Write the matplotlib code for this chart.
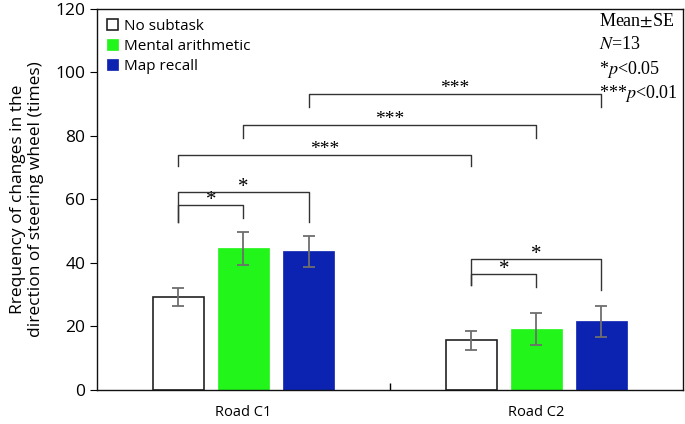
import matplotlib
matplotlib.use('Agg')
from matplotlib import pyplot as plt
import numpy as np

# data
roads = ['Road C1', 'Road C2']
conditions = ['No subtask', 'Mental arithmetic', 'Map recall']
means_c1 = [29.4, 44.6, 43.7]
means_c2 = [15.6, 19.3, 21.6]
se_c1 = [2.8, 5.2, 4.9]
se_c2 = [2.9, 5.1, 4.9]

# brackets: (road, bar a, bar b, y of bar, left leg bottom, right leg bottom, label)
local_sig = [
    (0, 0, 1, 58.3, 52.9, 54.2, '*'),
    (0, 0, 2, 62.4, 52.9, 53.0, '*'),
    (1, 0, 1, 36.6, 33.0, 32.3, '*'),
    (1, 0, 2, 41.2, 33.0, 31.5, '*'),
]
# cross-road brackets: (bar index, y of bar, legs bottom)
cross_sig = [
    (0, 74.0, 70.5, '***'),
    (1, 83.5, 79.4, '***'),
    (2, 93.2, 89.0, '***'),
]

colors = ['white', '#22f51a', '#0c22b0']
edges = ['#222222', '#22f51a', '#0c22b0']

plt.rcParams['font.family'] = ['Open Sans', 'DejaVu Sans']
plt.rcParams['mathtext.fontset'] = 'stix'

fig = plt.figure(figsize=(6.85, 4.24), dpi=100)
ax = fig.add_axes([0.1416, 0.0802, 0.8554, 0.8986])

x = np.arange(len(roads))
width = 0.174
offsets = np.array([-0.222, 0.0, 0.222])

means = np.array([means_c1, means_c2]).T
ses = np.array([se_c1, se_c2]).T

for i, cond in enumerate(conditions):
    ax.bar(x + offsets[i], means[i], width, color=colors[i], edgecolor=edges[i],
           linewidth=1.2 if i == 0 else 0.5, label=cond, zorder=2)
    ax.errorbar(x + offsets[i], means[i], yerr=ses[i], fmt='none', ecolor='#6e6e6e',
                elinewidth=1.3, capsize=4, capthick=1.3, zorder=3)

lc = '#333333'
for road, a, b, y, la, lb, lab in local_sig:
    xa = x[road] + offsets[a]
    xb = x[road] + offsets[b]
    ax.plot([xa, xa, xb, xb], [la, y, y, lb], color=lc, lw=1.0, zorder=4)
    ax.text((xa + xb) / 2, y - 1.6, lab, ha='center', va='bottom', fontsize=15,
            family='Liberation Serif')

for i, y, leg, lab in cross_sig:
    xa = x[0] + offsets[i]
    xb = x[1] + offsets[i]
    ax.plot([xa, xa, xb, xb], [leg, y, y, leg], color=lc, lw=1.0, zorder=4)
    ax.text((xa + xb) / 2, y - 1.0, lab, ha='center', va='bottom', fontsize=14,
            family='Liberation Serif')

ax.set_xlim(-0.5, 1.5)
ax.set_ylim(0, 120)
ax.set_yticks(np.arange(0, 121, 20))
ax.set_xticks(x)
ax.set_xticklabels(roads, fontsize=10.5)
ax.set_xticks([0.5], minor=True)
ax.tick_params(axis='x', which='major', length=0, pad=11)
ax.tick_params(axis='x', which='minor', direction='in', length=5, width=1)
ax.tick_params(axis='y', direction='out', length=5, labelsize=12.5)
for s in ax.spines.values():
    s.set_linewidth(1.0)
    s.set_color('#111111')

ax.set_ylabel('Rrequency of changes in the\ndirection of steering wheel (times)',
              fontsize=12.5, labelpad=8, linespacing=1.2)

leg = ax.legend(loc='upper left', bbox_to_anchor=(0.0, 1.0), frameon=False,
                fontsize=11, handlelength=0.75, handleheight=0.75,
                handletextpad=0.4, labelspacing=0.32, borderaxespad=0.25)

serif = 'Liberation Serif'
notes = ['Mean$\\pm$SE', '$\\it{N}$=13', '*$\\it{p}$<0.05', '***$\\it{p}$<0.01']
for k, note in enumerate(notes):
    ax.text(0.856, 0.99 - k * 0.061, note, transform=ax.transAxes, fontsize=13,
            family=serif, va='top', ha='left')

fig.savefig('out.png', dpi=100)
